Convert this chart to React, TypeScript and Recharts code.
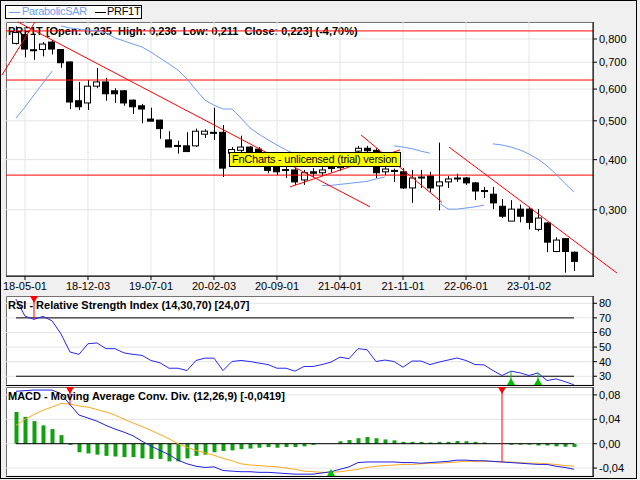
import React from 'react';
import { ComposedChart, Bar, Line, XAxis, YAxis, CartesianGrid, ReferenceLine, ReferenceDot } from 'recharts';

// monthly candles, 2018-04 .. 2023-06
const open = [0.78, 0.82, 0.752, 0.753, 0.786, 0.753, 0.701, 0.561, 0.554, 0.61,
  0.625, 0.594, 0.594, 0.563, 0.545, 0.505, 0.502, 0.448, 0.434, 0.433,
  0.433, 0.463, 0.468, 0.468, 0.415, 0.422, 0.43, 0.425, 0.41, 0.39,
  0.378, 0.377, 0.356, 0.373, 0.371, 0.388, 0.382, 0.392, 0.42, 0.427,
  0.422, 0.373, 0.376, 0.373, 0.34, 0.362, 0.364, 0.344, 0.352, 0.36,
  0.36, 0.35, 0.335, 0.328, 0.306, 0.281, 0.301, 0.301, 0.268, 0.278,
  0.236, 0.254, 0.235];
const high = [0.86, 0.84, 0.818, 0.786, 0.795, 0.755, 0.703, 0.625, 0.632, 0.677,
  0.64, 0.603, 0.597, 0.565, 0.551, 0.539, 0.503, 0.471, 0.446, 0.468,
  0.478, 0.476, 0.539, 0.488, 0.43, 0.459, 0.432, 0.43, 0.412, 0.399,
  0.392, 0.381, 0.377, 0.381, 0.383, 0.395, 0.4, 0.41, 0.433, 0.433,
  0.427, 0.386, 0.38, 0.381, 0.377, 0.377, 0.373, 0.441, 0.364, 0.369,
  0.362, 0.352, 0.342, 0.342, 0.319, 0.317, 0.309, 0.305, 0.301, 0.279,
  0.256, 0.255, 0.236];
const low = [0.775, 0.72, 0.71, 0.724, 0.732, 0.678, 0.535, 0.532, 0.532, 0.603,
  0.561, 0.554, 0.545, 0.52, 0.493, 0.499, 0.451, 0.43, 0.414, 0.418,
  0.43, 0.453, 0.448, 0.362, 0.385, 0.415, 0.4, 0.395, 0.37, 0.366,
  0.36, 0.346, 0.346, 0.362, 0.364, 0.372, 0.375, 0.385, 0.405, 0.41,
  0.36, 0.366, 0.352, 0.338, 0.312, 0.34, 0.332, 0.299, 0.34, 0.352,
  0.346, 0.317, 0.321, 0.301, 0.286, 0.281, 0.279, 0.268, 0.265, 0.235,
  0.235, 0.209, 0.211];
const close = [0.83, 0.755, 0.748, 0.777, 0.755, 0.698, 0.557, 0.542, 0.61, 0.625,
  0.584, 0.584, 0.554, 0.542, 0.535, 0.499, 0.478, 0.43, 0.432, 0.419,
  0.471, 0.471, 0.466, 0.381, 0.424, 0.43, 0.413, 0.41, 0.376, 0.373,
  0.376, 0.352, 0.371, 0.37, 0.377, 0.38, 0.392, 0.405, 0.427, 0.421,
  0.371, 0.379, 0.374, 0.34, 0.36, 0.36, 0.34, 0.352, 0.358, 0.359,
  0.35, 0.334, 0.333, 0.312, 0.289, 0.301, 0.289, 0.279, 0.286, 0.249,
  0.252, 0.236, 0.223];

const _ = null;
const sarBelow = [0.508, 0.541, 0.58, 0.621, 0.665, _, _, _, _, _,
  _, _, _, _, _, _, _, _, _, _,
  _, _, _, _, _, _, _, _, _, _,
  _, _, _, _, 0.345, 0.345, 0.347, 0.349, 0.351, 0.353,
  0.358, 0.362, _, _, _, _, _, 0.312, 0.301, 0.301,
  0.303, 0.305, 0.308, _, _, _, _, _, _, _,
  _, _, _];
const sarAbove = [_, _, _, _, _, 0.862, 0.852, 0.847, 0.842, 0.838,
  0.828, 0.805, 0.791, 0.777, 0.764, 0.742, 0.717, 0.693, 0.669, 0.636,
  0.597, 0.563, 0.547, 0.535, 0.535, 0.508, 0.48, 0.463, 0.448, 0.435,
  0.423, 0.413, _, _, _, _, _, _, _, _,
  _, _, 0.433, 0.43, 0.426, 0.42, 0.415, _, _, _,
  _, _, _, 0.438, 0.435, 0.43, 0.423, 0.413, 0.401, 0.386,
  0.368, 0.349, 0.332];

const rsi = [82.8, 71.2, 69, 71, 68, 59, 46.6, 45, 52.3, 52.8,
  48.9, 48.9, 46, 45, 44.3, 40.8, 39.2, 35.5, 35.5, 33.9,
  40.8, 42.4, 42.4, 33.9, 40.1, 40.8, 40.1, 39, 38, 35.5,
  35.5, 33.5, 36.7, 36.7, 38, 39.7, 43.1, 42, 48.9, 48.2,
  40.1, 41.1, 40.1, 36.2, 40.4, 40.4, 38, 39.7, 41.1, 42.5,
  40.8, 38, 37.8, 33.9, 30.5, 33.5, 32.3, 30.5, 32.3, 27,
  28.2, 26.3, 24.1];

const macd = [0.086, 0.087, 0.088, 0.088, 0.088, 0.082, 0.064, 0.047, 0.042, 0.037,
  0.03, 0.024, 0.019, 0.013, 0.004, -0.004, -0.011, -0.018, -0.027, -0.033,
  -0.037, -0.039, -0.038, -0.044, -0.045, -0.046, -0.046, -0.047, -0.047, -0.048,
  -0.049, -0.05, -0.05, -0.05, -0.048, -0.046, -0.042, -0.038, -0.031, -0.03,
  -0.03, -0.03, -0.03, -0.031, -0.031, -0.032, -0.031, -0.03, -0.029, -0.027,
  -0.027, -0.028, -0.028, -0.029, -0.03, -0.031, -0.032, -0.033, -0.034, -0.034,
  -0.037, -0.039, -0.042];
const signal = [0.03, 0.04, 0.048, 0.055, 0.06, 0.066, 0.065, 0.062, 0.06, 0.056,
  0.052, 0.047, 0.04, 0.034, 0.028, 0.022, 0.015, 0.008, 0, -0.006,
  -0.011, -0.015, -0.019, -0.024, -0.028, -0.033, -0.035, -0.036, -0.037, -0.038,
  -0.04, -0.042, -0.045, -0.046, -0.047, -0.047, -0.046, -0.044, -0.042, -0.039,
  -0.037, -0.036, -0.035, -0.034, -0.034, -0.033, -0.032, -0.032, -0.031, -0.03,
  -0.029, -0.029, -0.029, -0.029, -0.03, -0.03, -0.031, -0.032, -0.032, -0.033,
  -0.034, -0.036, -0.037];
const hist = [0.052, 0.044, 0.037, 0.03, 0.024, 0.014, -0.002, -0.014, -0.016, -0.018,
  -0.02, -0.021, -0.022, -0.022, -0.024, -0.025, -0.025, -0.029, -0.029, -0.024,
  -0.02, -0.018, -0.014, -0.012, -0.011, -0.009, -0.008, -0.0066, -0.0055, -0.0066,
  -0.0055, -0.0055, -0.0044, -0.002, 0, 0, 0.004, 0.006, 0.009, 0.011,
  0.009, 0.007, 0.0055, 0.003, 0.003, 0.003, 0.002, 0.003, 0.003, 0.0044,
  0.004, 0.003, 0.002, 0, 0, -0.0016, -0.0016, -0.0016, -0.003, -0.003,
  -0.0044, -0.005, -0.0055];

const tickIdx = [1, 8, 15, 22, 29, 36, 43, 50, 57];
const tickLabels = ['18-05-01', '18-12-03', '19-07-01', '20-02-03', '20-09-01', '21-04-01', '21-11-01', '22-06-01', '23-01-02'];
const priceTicks = [0.3, 0.4, 0.5, 0.6, 0.7, 0.8];
const rsiTicks = [30, 40, 50, 60, 70, 80];
const macdTicks = [-0.04, 0, 0.04, 0.08];

// drawn objects on the price panel (candle index, price)
const hLines = [0.838, 0.632, 0.366];
const trendLines = [
  [-1.56, 0.65, 2.11, 0.882],
  [0.22, 0.882, 39.33, 0.305],
  [30.44, 0.342, 42.67, 0.423],
  [38.33, 0.461, 47.33, 0.313],
  [48.11, 0.43, 66.78, 0.2085],
];
const rsiSell = [2];
const rsiBuy = [55, 58];
const macdSell = [6, 54];
const macdBuy = [35];

const xDomain = [-1.11, 64.11];
const priceDomain = [0.205, 0.882];
const rsiDomain = [24, 85];
const macdDomain = [-0.053, 0.093];

const FONT = '"Liberation Sans", Arial, sans-serif';
const tickStyle = { fontSize: 11, fill: '#000', fontFamily: FONT };

const data = open.map((o, i) => ({
  i,
  wick: [low[i], high[i]],
  body: [Math.min(o, close[i]), Math.max(o, close[i])],
  up: close[i] >= o,
  sarBelow: sarBelow[i],
  sarAbove: sarAbove[i],
  rsi: rsi[i],
  macd: macd[i],
  signal: signal[i],
  hist: hist[i],
}));

const Wick = (p: any) => {
  const cx = Math.round(p.x + p.width / 2) + 0.5;
  return <line x1={cx} x2={cx} y1={p.y} y2={p.y + p.height} stroke="#000" strokeWidth={1} />;
};

const Body = (p: any) => {
  const h = Math.max(1, p.height);
  return (
    <rect x={Math.round(p.x) + 0.5} y={p.y} width={p.width - 1} height={h}
      fill={p.payload.up ? '#fff' : '#000'} stroke="#000" strokeWidth={1} />
  );
};

const Tri = ({ cx, cy, color, up }: any) => (
  <polygon
    points={up ? `${cx - 4},${cy} ${cx + 4},${cy} ${cx},${cy - 7}` : `${cx - 4},${cy} ${cx + 4},${cy} ${cx},${cy + 7}`}
    fill={color}
  />
);

const fmtDate = (v: number) => tickLabels[tickIdx.indexOf(v)] ?? '';
const fmtPrice = (v: number) => v.toFixed(3).replace('.', ',');
const fmtMacd = (v: number) => v.toFixed(2).replace('.', ',');

const frame = (top: number, height: number): React.CSSProperties => ({
  position: 'absolute', left: 6, top, width: 588, height, boxSizing: 'border-box',
  border: '1px solid #000', background: '#fff',
});

const titleStyle = (top: number): React.CSSProperties => ({
  position: 'absolute', left: 8, top, fontFamily: FONT, fontSize: 11, fontWeight: 'bold',
  whiteSpace: 'pre', color: '#000',
});

const markers = (sell: number[], buy: number[], series: number[], dom: number[]) => [
  ...sell.map((i) => (
    <ReferenceLine key={'sl' + i} segment={[{ x: i, y: dom[1] }, { x: i, y: series[i] }]} stroke="#ff0000" ifOverflow="visible" />
  )),
  ...sell.map((i) => (
    <ReferenceDot key={'sd' + i} x={i} y={dom[1]} ifOverflow="visible" shape={(p: any) => <Tri cx={p.cx} cy={p.cy} color="#ff0000" />} />
  )),
  ...buy.map((i) => (
    <ReferenceLine key={'bl' + i} segment={[{ x: i, y: dom[0] }, { x: i, y: series[i] }]} stroke="#00c000" ifOverflow="visible" />
  )),
  ...buy.map((i) => (
    <ReferenceDot key={'bd' + i} x={i} y={dom[0]} ifOverflow="visible" shape={(p: any) => <Tri cx={p.cx} cy={p.cy} color="#00c000" up />} />
  )),
];

export default function App() {
  return (
    <div style={{ position: 'absolute', left: 0, top: 0, width: 640, height: 480, background: '#f0f0f0', overflow: 'hidden' }}>
      <div style={{ position: 'absolute', left: 0, top: 0, width: 637, height: 479, border: '1px solid #000', boxSizing: 'border-box' }} />

      {/* legend */}
      <div style={{ position: 'absolute', left: 5, top: 5, width: 137, height: 14, boxSizing: 'border-box', border: '1px solid #000', background: '#fff', fontFamily: FONT, fontSize: 11, letterSpacing: -0.3 }}>
        <div style={{ position: 'absolute', left: 3, top: 6, width: 11, height: 1, background: '#6f9cf0' }} />
        <span style={{ position: 'absolute', left: 16, top: -1, color: '#6f9cf0' }}>ParabolicSAR</span>
        <div style={{ position: 'absolute', left: 89, top: 6, width: 11, height: 1, background: '#000' }} />
        <span style={{ position: 'absolute', left: 101, top: -1, color: '#000' }}>PRF1T</span>
      </div>

      {/* price panel */}
      <div style={frame(22, 255)} />
      <div style={titleStyle(25)}>PRF1T [Open: 0,235  High: 0,236  Low: 0,211  Close: 0,223] (-4,70%)</div>
      <div style={{ position: 'absolute', left: 0, top: 0 }}>
        <ComposedChart width={640} height={296} data={data} margin={{ top: 22, right: 0, bottom: 0, left: 6 }}>
          <CartesianGrid stroke="#e4e4e4" />
          <XAxis type="number" dataKey="i" domain={xDomain} ticks={tickIdx} interval={0} tickFormatter={fmtDate}
            allowDataOverflow height={20} tickSize={4} tick={tickStyle} axisLine={{ stroke: '#000' }} tickLine={{ stroke: '#000' }} />
          <XAxis xAxisId="w" type="number" dataKey="i" domain={xDomain} allowDataOverflow hide />
          <YAxis orientation="right" width={47} scale="log" type="number" domain={priceDomain} ticks={priceTicks}
            interval={0} tickFormatter={fmtPrice} allowDataOverflow tickSize={4} tick={tickStyle}
            axisLine={{ stroke: '#000' }} tickLine={{ stroke: '#000' }} />
          {hLines.map((v) => (
            <ReferenceLine key={v} y={v} stroke="#ff0000" />
          ))}
          <Bar xAxisId="w" dataKey="wick" barSize={7} shape={Wick} isAnimationActive={false} />
          <Bar dataKey="body" barSize={7} shape={Body} isAnimationActive={false} />
          <Line dataKey="sarBelow" stroke="#6f9cf0" dot={false} activeDot={false} connectNulls={false} isAnimationActive={false} />
          <Line dataKey="sarAbove" stroke="#6f9cf0" dot={false} activeDot={false} connectNulls={false} isAnimationActive={false} />
          {trendLines.map((t, k) => (
            <ReferenceLine key={'t' + k} segment={[{ x: t[0], y: t[1] }, { x: t[2], y: t[3] }]} stroke="#ff0000" ifOverflow="visible" />
          ))}
        </ComposedChart>
      </div>
      <div style={{ position: 'absolute', left: 229, top: 152, width: 172, height: 15, boxSizing: 'border-box', border: '1px solid #000', background: '#ffff00', fontFamily: FONT, fontSize: 11, lineHeight: '13px', paddingLeft: 2, letterSpacing: -0.25, whiteSpace: 'pre' }}>
        FnCharts - unlicensed (trial) version
      </div>

      {/* RSI panel */}
      <div style={frame(296, 90)} />
      <div style={{ position: 'absolute', left: 0, top: 296 }}>
        <ComposedChart width={640} height={89} data={data} margin={{ top: 0, right: 0, bottom: 0, left: 6 }}>
          <CartesianGrid stroke="#e4e4e4" />
          <XAxis type="number" dataKey="i" domain={xDomain} ticks={tickIdx} interval={0} allowDataOverflow height={0} tick={false} tickLine={false} axisLine={false} />
          <YAxis orientation="right" width={47} type="number" domain={rsiDomain} ticks={rsiTicks} interval={0} allowDataOverflow
            tickSize={4} tick={tickStyle} axisLine={{ stroke: '#000' }} tickLine={{ stroke: '#000' }} />
          <ReferenceLine segment={[{ x: 0, y: 70 }, { x: 62, y: 70 }]} stroke="#000" />
          <ReferenceLine segment={[{ x: 0, y: 30 }, { x: 62, y: 30 }]} stroke="#000" />
          <Line dataKey="rsi" stroke="#2828f0" dot={false} activeDot={false} isAnimationActive={false} />
          {markers(rsiSell, rsiBuy, rsi, rsiDomain)}
        </ComposedChart>
      </div>
      <div style={titleStyle(299)}>RSI - Relative Strength Index (14,30,70) [24,07]</div>

      {/* MACD panel */}
      <div style={frame(387, 90)} />
      <div style={{ position: 'absolute', left: 0, top: 387 }}>
        <ComposedChart width={640} height={89} data={data} margin={{ top: 0, right: 0, bottom: 0, left: 6 }}>
          <CartesianGrid stroke="#e4e4e4" />
          <XAxis type="number" dataKey="i" domain={xDomain} ticks={tickIdx} interval={0} allowDataOverflow height={0} tick={false} tickLine={false} axisLine={false} />
          <YAxis orientation="right" width={47} type="number" domain={macdDomain} ticks={macdTicks} interval={0} allowDataOverflow
            tickFormatter={fmtMacd} tickSize={4} tick={tickStyle} axisLine={{ stroke: '#000' }} tickLine={{ stroke: '#000' }} />
          <Bar dataKey="hist" barSize={4} fill="#10a010" isAnimationActive={false} />
          <ReferenceLine segment={[{ x: 0, y: 0 }, { x: 62, y: 0 }]} stroke="#000" />
          <Line dataKey="signal" stroke="#ffa820" dot={false} activeDot={false} isAnimationActive={false} />
          <Line dataKey="macd" stroke="#2020e0" dot={false} activeDot={false} isAnimationActive={false} />
          {markers(macdSell, macdBuy, macd, macdDomain)}
        </ComposedChart>
      </div>
      <div style={titleStyle(390)}>MACD - Moving Average Conv. Div. (12,26,9) [-0,0419]</div>
    </div>
  );
}
